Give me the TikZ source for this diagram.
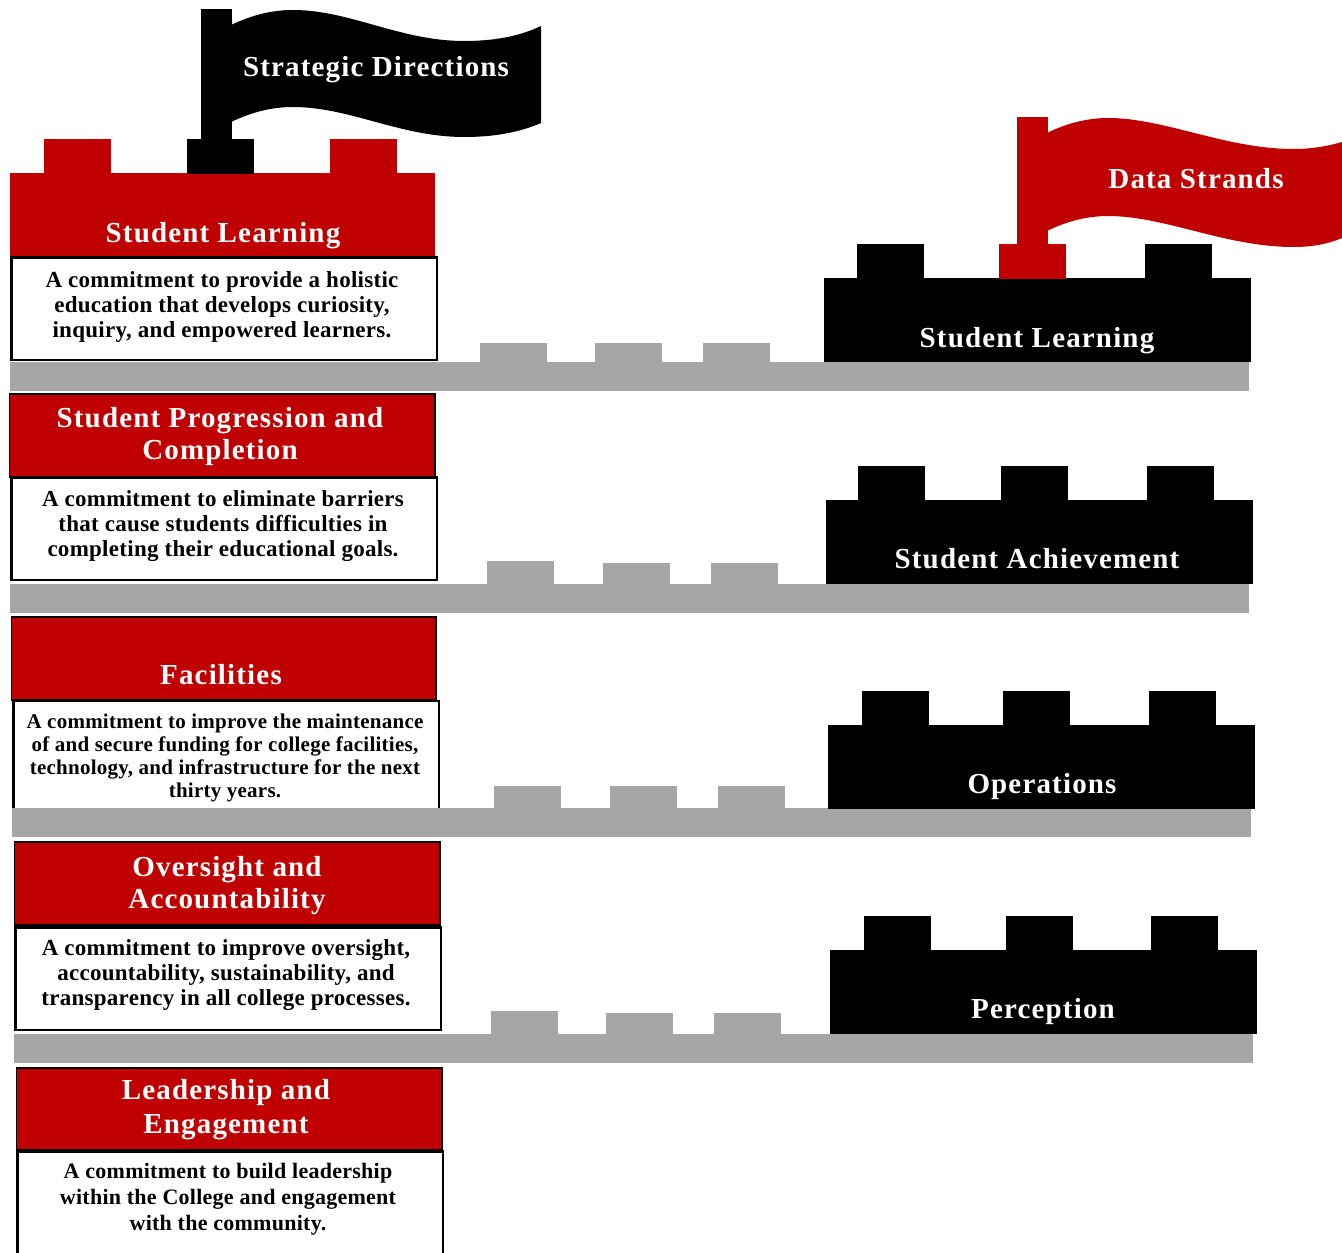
\documentclass[tikz,border=0pt]{standalone}
\usepackage{fontspec}
\setmainfont{Liberation Serif}[BoldFont={Liberation Serif Bold}]
\newfontfamily\headfont{Liberation Serif Bold}[LetterSpace=4]
\newfontfamily\descfont{Liberation Serif Bold}[LetterSpace=1.2]
\definecolor{flagred}{HTML}{C00000}
\definecolor{groundgray}{HTML}{A6A6A6}
\tikzset{
  headtext/.style={text=white,align=center,font=\headfont\fontsize{14.5}{16}\selectfont,inner sep=0pt},
  desctext/.style={text=black,align=center,font=\descfont\fontsize{11.5}{12.7}\selectfont,inner sep=0pt},
  headbox/.style={fill=flagred,draw=black,line width=0.7pt},
  descbox/.style={fill=white,draw=black,line width=1.2pt}
}
% castle: x, y, width of base, colour, merlon offsets, colour of middle merlon
\newcommand\castlebox[8]{%
  \fill[#4] (#1,#2) rectangle +(#3,84);
  \fill[#4] (#5,#2-34) rectangle +(67,35);
  \fill[#8] (#6,#2-34) rectangle +(67,35);
  \fill[#4] (#7,#2-34) rectangle +(67,35);
}
\newcommand\groundbar[3]{%
  \fill[groundgray] (#1,#2) rectangle +(1239,29);
  \foreach \bx/\by in {#3} {\fill[groundgray] (\bx,\by) rectangle (\bx+67,#2+1);}
}
\begin{document}
\begin{tikzpicture}[x=0.5pt,y=-0.5pt]
        \useasboundingbox (0,0) rectangle (1342,1252);
        % The flags
        \fill[black] (201,9) rectangle (232,140);
        \fill[black] (231,25) .. controls (252,15) and (272,10) .. (293,10)
          .. controls (350,10) and (400,41) .. (464,41)
          .. controls (492,41) and (518,37) .. (541,26)
          -- (541,123) .. controls (518,133) and (492,137) .. (464,137)
          .. controls (400,137) and (350,107) .. (293,107)
          .. controls (272,107) and (252,112) .. (231,122) -- cycle;
        \fill[flagred] (1017,117) rectangle (1048,244);
        \fill[flagred] (1047,133) .. controls (1067,123) and (1088,118) .. (1108,118)
          .. controls (1165,118) and (1225,149) .. (1294,149)
          .. controls (1312,149) and (1328,146) .. (1342,142)
          -- (1342,238) .. controls (1328,244) and (1312,247) .. (1294,247)
          .. controls (1225,247) and (1165,216) .. (1108,216)
          .. controls (1088,216) and (1067,221) .. (1047,231) -- cycle;
        \node (strategic) [headtext] at (376,70) {Strategic Directions};
        \node (strands) [headtext] at (1196,179) {Data Strands};

        % The left column
        \castlebox{10}{173}{425}{flagred}{44}{187}{330}{black};
        \node (head1) [headtext] at (223,236) {Student Learning};
        \groundbar{10}{362}{480/343,595/343,703/343};
        \draw[descbox] (11.5,257.5) rectangle (437,360);
        \node (desc1) [desctext] at (222,307) {A commitment to provide a holistic\\education that develops curiosity,\\inquiry, and empowered learners.};

        \groundbar{10}{584}{487/561,603/563,711/563};
        \draw[headbox] (9.5,394) rectangle (435,477);
        \node (head2) [headtext] at (220,437) {Student Progression and\\Completion};
        \draw[descbox] (11.5,477.5) rectangle (437,580);
        \node (desc2) [desctext] at (223,526) {A commitment to eliminate barriers\\that cause students difficulties in\\completing their educational goals.};

        \draw[headbox] (11.5,617) rectangle (436,700);
        \node (head3) [headtext] at (221,675) {Facilities};
        \draw[descbox] (13.5,701) rectangle (439,815);
        \node (desc3) [desctext,font=\descfont\fontsize{10.5}{11.5}\selectfont] at (225,758) {A commitment to improve the maintenance\\of and secure funding for college facilities,\\technology, and infrastructure for the next\\thirty years.};
        \groundbar{12}{808}{494/786,610/786,718/786};

        \groundbar{14}{1034}{491/1011,606/1013,714/1013};
        \draw[headbox] (14.5,842) rectangle (440,925);
        \node (head4) [headtext] at (227,886) {Oversight and\\Accountability};
        \draw[descbox] (15.5,927.5) rectangle (441,1030);
        \node (desc4) [desctext] at (226,975) {A commitment to improve oversight,\\accountability, sustainability, and\\transparency in all college processes.};

        \draw[headbox] (16.5,1068) rectangle (442,1150);
        \node (head5) [headtext,font=\headfont\fontsize{14.5}{17}\selectfont] at (226,1110) {Leadership and\\Engagement};
        \draw[descbox] (17.5,1151.5) rectangle (443,1270);
        \node (desc5) [desctext,font=\descfont\fontsize{11}{13}\selectfont] at (228,1199) {A commitment to build leadership\\within the College and engagement\\with the community.};

        % The right column
        \castlebox{824}{278}{427}{black}{857}{999}{1145}{flagred};
        \node (strand1) [headtext] at (1037,341) {Student Learning};
        \castlebox{826}{500}{427}{black}{858}{1001}{1147}{black};
        \node (strand2) [headtext] at (1037,559) {Student Achievement};
        \castlebox{828}{725}{427}{black}{862}{1003}{1149}{black};
        \node (strand3) [headtext] at (1042,787) {Operations};
        \castlebox{830}{950}{427}{black}{864}{1006}{1151}{black};
        \node (strand4) [headtext] at (1043,1012) {Perception};
\end{tikzpicture}
\end{document}
